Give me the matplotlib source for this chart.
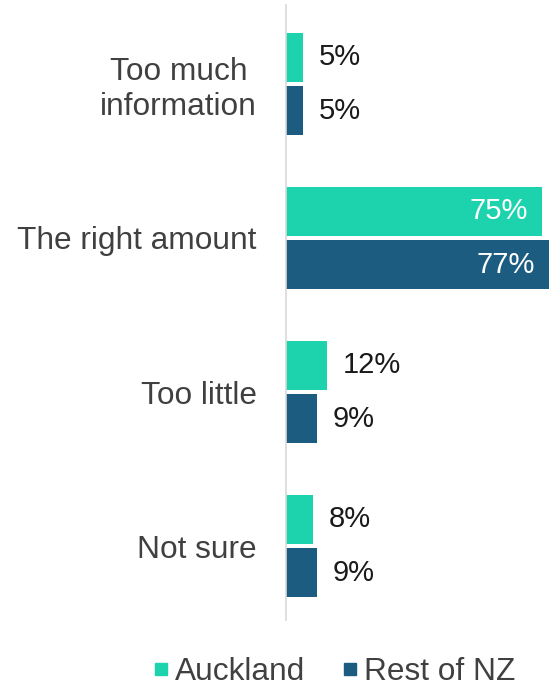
import matplotlib.pyplot as plt
from matplotlib.lines import Line2D

plt.rcParams['font.family'] = ['Liberation Sans', 'DejaVu Sans']

categories = ['Too much\ninformation', 'The right amount', 'Too little', 'Not sure']
auckland = [5, 75, 12, 8]
rest_of_nz = [5, 77, 9, 9]
series_names = ['Auckland', 'Rest of NZ']

teal = '#1DD3AD'
navy = '#1B5C80'

fig = plt.figure(figsize=(5.49, 6.92), dpi=100)
ax = fig.add_axes([0.521, 0.104, 0.479, 0.889])

ypos = list(range(len(categories)))
h = 0.318
off = 0.174
bars_a = ax.barh([y - off for y in ypos], auckland, height=h, color=teal)
bars_r = ax.barh([y + off for y in ypos], rest_of_nz, height=h, color=navy)

# labels inside for long bars, outside otherwise
for bars, vals in ((bars_a, auckland), (bars_r, rest_of_nz)):
    for b, v in zip(bars, vals):
        yc = b.get_y() + b.get_height() / 2
        if v > 50:
            ax.text(v - 4.2, yc, f'{v}%', ha='right', va='center',
                    fontsize=21, color='white')
        else:
            ax.text(v + 4.5, yc, f'{v}%', ha='left', va='center',
                    fontsize=21, color='#1a1a1a')

ax.set_xlim(0, 77)
ax.set_ylim(3.48, -0.513)
ax.set_yticks(ypos)
ax.set_yticklabels(categories, fontsize=22.8, color='#404040',
                   multialignment='center', linespacing=1.22)
ax.tick_params(axis='y', length=0, pad=21)
ax.set_xticks([])
for s in ['top', 'right', 'bottom']:
    ax.spines[s].set_visible(False)
ax.spines['left'].set_color('#D9D9D9')
ax.spines['left'].set_linewidth(1.2)

handles = [Line2D([], [], marker='s', linestyle='', markersize=9, color=c)
           for c in (teal, navy)]
fig.legend(handles, series_names, loc='lower center', bbox_to_anchor=(0.604, -0.034),
           ncol=2, frameon=False, fontsize=22.8, labelcolor='#404040',
           handletextpad=0.05, columnspacing=1.0, handlelength=0.8)

fig.savefig('out.png', dpi=100)
